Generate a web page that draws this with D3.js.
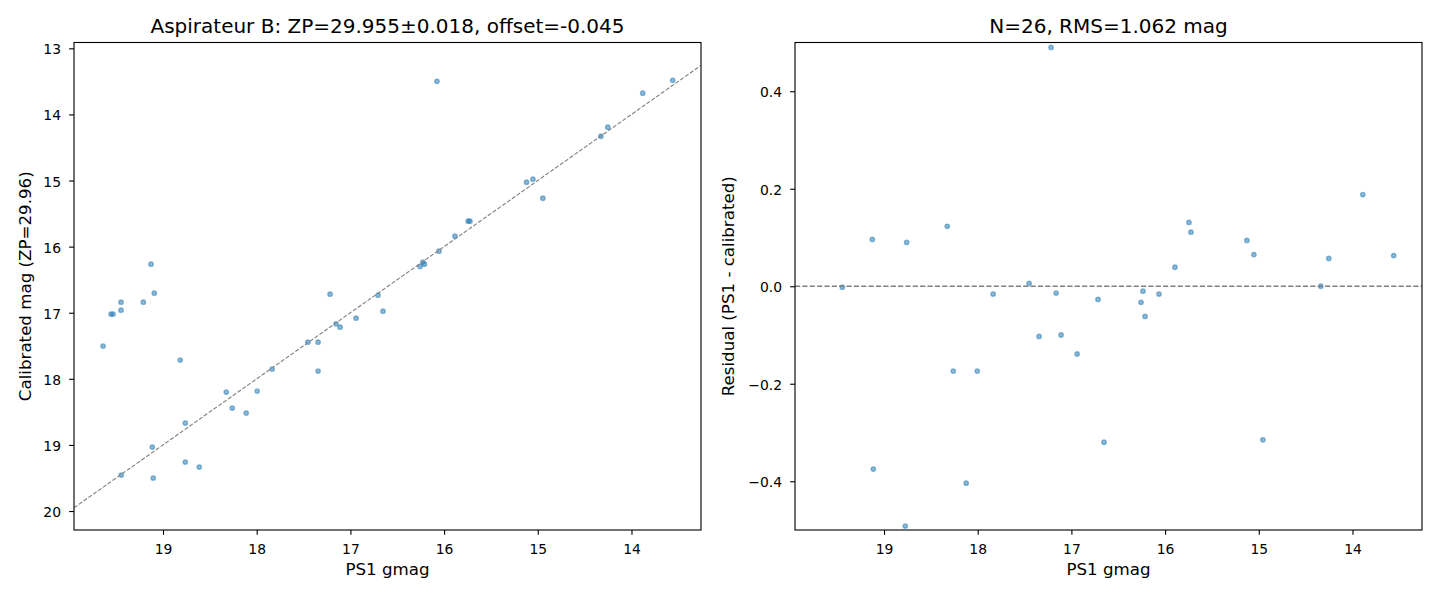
<!DOCTYPE html>
<html>
<head>
<meta charset="utf-8">
<script src="https://cdn.jsdelivr.net/npm/d3@7"></script>
<style>
  html, body { margin: 0; padding: 0; background: #fff; }
  svg { display: block; font-family: "DejaVu Sans", sans-serif; }
</style>
</head>
<body>
<svg id="chart" width="1440" height="600"></svg>
<script>
// ---- Data ----
const fitTitle = "Aspirateur B: ZP=29.955±0.018, offset=-0.045";
const resTitle = "N=26, RMS=1.062 mag";
const xLabel = "PS1 gmag";
const fitYLabel = "Calibrated mag (ZP=29.96)";
const resYLabel = "Residual (PS1 - calibrated)";

// Left panel: PS1 gmag vs calibrated magnitude
const fitGmag = [19.128, 19.093, 19.448, 19.210, 19.448, 19.555, 19.533, 19.640, 18.816, 17.454,
                 17.345, 17.345, 17.835, 18.325, 17.995, 18.261, 18.112, 18.762, 19.114, 18.762,
                 18.613, 19.445, 19.104, 17.217, 17.153, 17.110, 16.939, 16.705, 16.652, 16.257,
                 16.226, 16.210, 16.055, 15.884, 15.743, 15.724, 16.076, 15.120, 15.052, 14.946,
                 14.327, 14.253, 13.880, 13.560];
const fitCal  = [16.266, 16.704, 16.840, 16.840, 16.961, 17.021, 17.021, 17.505, 17.717, 17.445,
                 17.445, 17.883, 17.853, 18.201, 18.186, 18.443, 18.518, 18.669, 19.032, 19.259,
                 19.335, 19.456, 19.501, 16.719, 17.168, 17.218, 17.082, 16.734, 16.976, 16.299,
                 16.234, 16.266, 16.069, 15.842, 15.615, 15.615, 13.499, 15.026, 14.980, 15.268,
                 14.330, 14.194, 13.680, 13.484];

// Right panel: PS1 gmag vs residual
const resGmag = [19.445, 19.125, 18.758, 18.325, 18.261, 18.005, 17.835, 17.451, 17.345, 17.163,
                 17.110, 16.939, 16.716, 16.257, 16.236, 16.214, 16.065, 15.895, 15.745, 15.724,
                 15.127, 15.052, 14.338, 14.253, 13.890, 13.560, 19.114, 18.773, 18.123, 16.652,
                 14.956, 17.217];
const resVal  = [-0.002, 0.096, 0.090, 0.123, -0.174, -0.174, -0.016, 0.006, -0.103, -0.014,
                 -0.100, -0.139, -0.027, -0.033, -0.010, -0.062, -0.016, 0.039, 0.131, 0.111,
                 0.094, 0.065, 0.000, 0.057, 0.188, 0.063, -0.375, -0.492, -0.404, -0.320,
                 -0.315, 0.490];

const xTicks = [19, 18, 17, 16, 15, 14];
const fitYTicks = [13, 14, 15, 16, 17, 18, 19, 20];
const resYTicks = [0.4, 0.2, 0.0, -0.2, -0.4];

const xDomain = [19.95, 13.258];
const fitYDomain = [12.912, 20.287];
const resYDomain = [0.5, -0.5];

// ---- Drawing ----
const svg = d3.select("#chart");
const PT = 100 / 72;
const tickLen = 3.5 * PT;
const spineW = 0.8 * PT;
const plotTop = 42.5, plotBottom = 530;
const C0 = "#1f77b4";

function panel(opts) {
  const x = d3.scaleLinear().domain(xDomain).range([opts.left, opts.right]);
  const y = d3.scaleLinear().domain(opts.yDomain).range([plotTop, plotBottom]);
  const g = svg.append("g");
  const clipId = "clip" + opts.id;
  svg.append("clipPath").attr("id", clipId).append("rect")
    .attr("x", opts.left).attr("y", plotTop)
    .attr("width", opts.right - opts.left).attr("height", plotBottom - plotTop);

  // points
  const pts = d3.zip(opts.xs, opts.ys);
  g.append("g").attr("clip-path", `url(#${clipId})`)
    .selectAll("circle").data(pts).enter().append("circle")
    .attr("cx", d => x(d[0])).attr("cy", d => y(d[1]))
    .attr("r", 2.2)
    .attr("fill", C0).attr("fill-opacity", 0.5)
    .attr("stroke", C0).attr("stroke-opacity", 0.5)
    .attr("stroke-width", 1.0 * PT);

  // reference line
  g.append("g").attr("clip-path", `url(#${clipId})`)
    .append("path")
    .attr("d", d3.line().x(d => x(d[0])).y(d => y(d[1]))(opts.line))
    .attr("fill", "none")
    .attr("stroke", "#808080")
    .attr("stroke-width", opts.lineW * PT)
    .attr("stroke-dasharray", `${3.7 * opts.lineW * PT},${1.6 * opts.lineW * PT}`);

  // axes
  const ax = g.append("g").attr("transform", `translate(0,${plotBottom})`)
    .call(d3.axisBottom(x).tickValues(xTicks).tickFormat(d3.format("d"))
      .tickSize(tickLen).tickPadding(9.3));
  const ay = g.append("g").attr("transform", `translate(${opts.left},0)`)
    .call(d3.axisLeft(y).tickValues(opts.yTicks).tickFormat(d3.format(opts.yFmt))
      .tickSize(tickLen).tickPadding(8.1));
  [ax, ay].forEach(a => {
    a.select(".domain").remove();
    a.selectAll(".tick line").attr("stroke", "#000").attr("stroke-width", spineW);
    a.selectAll(".tick text").attr("fill", "#000")
      .style("font-family", "DejaVu Sans").style("font-size", "13.9px");
  });
  ay.selectAll(".tick text").attr("dy", "0.4em");

  // spines
  g.append("rect")
    .attr("x", opts.left).attr("y", plotTop)
    .attr("width", opts.right - opts.left).attr("height", plotBottom - plotTop)
    .attr("fill", "none").attr("stroke", "#000").attr("stroke-width", spineW);

  // labels
  g.append("text")
    .attr("x", (opts.left + opts.right) / 2).attr("y", 33)
    .attr("text-anchor", "middle").style("font-size", "20px")
    .text(opts.title);
  g.append("text")
    .attr("x", (opts.left + opts.right) / 2).attr("y", 575)
    .attr("text-anchor", "middle").style("font-size", "16.67px")
    .text(xLabel);
  g.append("text")
    .attr("transform", `translate(${opts.ylabX},${(plotTop + plotBottom) / 2}) rotate(-90)`)
    .attr("text-anchor", "middle").style("font-size", "16.67px")
    .text(opts.ylabel);
}

panel({
  id: "L", left: 74, right: 701, yDomain: fitYDomain, yTicks: fitYTicks, yFmt: "d",
  xs: fitGmag, ys: fitCal, title: fitTitle, ylabel: fitYLabel, ylabX: 31,
  line: [[xDomain[0], xDomain[0]], [xDomain[1], xDomain[1]]], lineW: 0.8
});
panel({
  id: "R", left: 795, right: 1422, yDomain: resYDomain, yTicks: resYTicks, yFmt: ".1f",
  xs: resGmag, ys: resVal, title: resTitle, ylabel: resYLabel, ylabX: 733.5,
  line: [[xDomain[0], 0], [xDomain[1], 0]], lineW: 1.0
});
</script>
</body>
</html>
